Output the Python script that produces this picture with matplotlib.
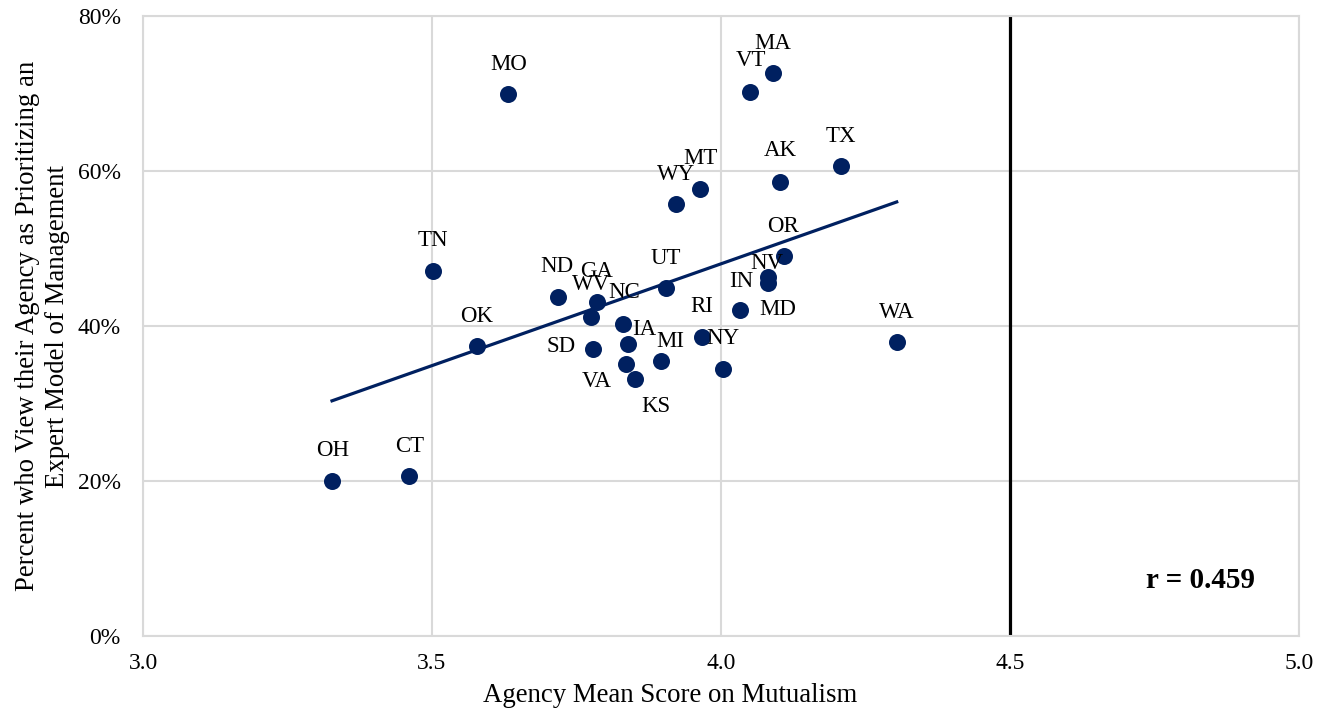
import numpy as np
import matplotlib
matplotlib.use("Agg")
import matplotlib.pyplot as plt
from matplotlib.ticker import FuncFormatter

plt.rcParams['font.family'] = ['Liberation Serif', 'DejaVu Serif']

states = ["OH", "CT", "TN", "OK", "MO", "ND", "WV", "GA", "SD", "NC", "IA", "VA", "KS", "MI",
          "UT", "WY", "MT", "RI", "NY", "IN", "MD", "NV", "VT", "MA", "AK", "OR", "TX", "WA"]
mutualism = [3.327, 3.460, 3.502, 3.578, 3.631, 3.718, 3.775, 3.785, 3.779, 3.830, 3.839, 3.836,
             3.851, 3.896, 3.905, 3.922, 3.964, 3.967, 4.003, 4.081, 4.033, 4.081, 4.050, 4.090,
             4.102, 4.109, 4.208, 4.304]
expert_pct = [20.0, 20.6, 47.1, 37.4, 69.9, 43.7, 41.2, 43.1, 37.0, 40.3, 37.7, 35.1,
              33.2, 35.5, 44.9, 55.7, 57.7, 38.6, 34.5, 45.5, 42.1, 46.3, 70.2, 72.6,
              58.6, 49.0, 60.6, 37.9]
x_ticks = [3.0, 3.5, 4.0, 4.5, 5.0]
y_ticks = [0, 20, 40, 60, 80]
r_label = "r = 0.459"

# label offsets in pixels (dx, dy up)
label_offsets = {
    "OH": (1, 31), "CT": (1, 30), "TN": (0, 30), "OK": (0, 30), "MO": (1, 30),
    "ND": (-1, 31), "WV": (0, 32), "GA": (0, 30), "SD": (-32, 3), "NC": (1, 31),
    "IA": (16, 14), "VA": (-29, -18), "KS": (21, -28), "MI": (9, 19), "UT": (0, 30),
    "WY": (0, 30), "MT": (0, 30), "RI": (0, 30), "NY": (0, 30), "IN": (-27, 2),
    "MD": (38, 0), "NV": (-1, 14), "VT": (1, 31), "MA": (0, 30), "AK": (0, 31),
    "OR": (-1, 30), "TX": (0, 30), "WA": (0, 30),
}

navy = "#002060"
grid_c = "#D9D9D9"

fig = plt.figure(figsize=(13.29, 7.10), dpi=100)
ax = fig.add_axes([143/1329, 1 - 636/710, 1156/1329, 620/710])

ax.set_xlim(3.0, 5.0)
ax.set_ylim(0, 80)
ax.set_xticks(x_ticks)
ax.set_yticks(y_ticks)
ax.xaxis.set_major_formatter(FuncFormatter(lambda v, p: f"{v:.1f}"))
ax.yaxis.set_major_formatter(FuncFormatter(lambda v, p: f"{v:.0f}%"))
ax.grid(True, color=grid_c, linewidth=1.5)
ax.set_axisbelow(True)
for s in ax.spines.values():
    s.set_color(grid_c)
    s.set_linewidth(1.5)
ax.tick_params(length=0, labelsize=17)
ax.tick_params(axis='y', pad=16)
ax.tick_params(axis='x', pad=12)

# 4.5 reference line
ax.axvline(4.5, color="black", linewidth=2.3, zorder=2)

# trend line
xs = np.array(mutualism)
ys = np.array(expert_pct)
m, b = np.polyfit(xs, ys, 1)
xl = np.array([xs.min(), xs.max()])
ax.plot(xl, m * xl + b, color=navy, linewidth=2.3, zorder=3)

ax.scatter(xs, ys, s=150, color=navy, zorder=4, linewidths=0)

for st, xv, yv in zip(states, mutualism, expert_pct):
    dx, dy = label_offsets[st]
    ax.annotate(st, (xv, yv), xytext=(dx, dy), textcoords='offset pixels',
                ha='center', va='center', fontsize=16.5, zorder=5)

ax.text(0.915, 0.089, r_label, transform=ax.transAxes, ha='center', va='center',
        fontsize=21, fontweight='bold')

ax.set_xlabel("Agency Mean Score on Mutualism", fontsize=19.3)
ax.xaxis.set_label_coords((670 - 143) / 1156, -0.075)
ax.set_ylabel("Percent who View their Agency as Prioritizing an\nExpert Model of Management",
              fontsize=19.3, linespacing=1.25)
ax.yaxis.set_label_coords(-0.063, 0.5)

fig.savefig("out.png", dpi=100)
